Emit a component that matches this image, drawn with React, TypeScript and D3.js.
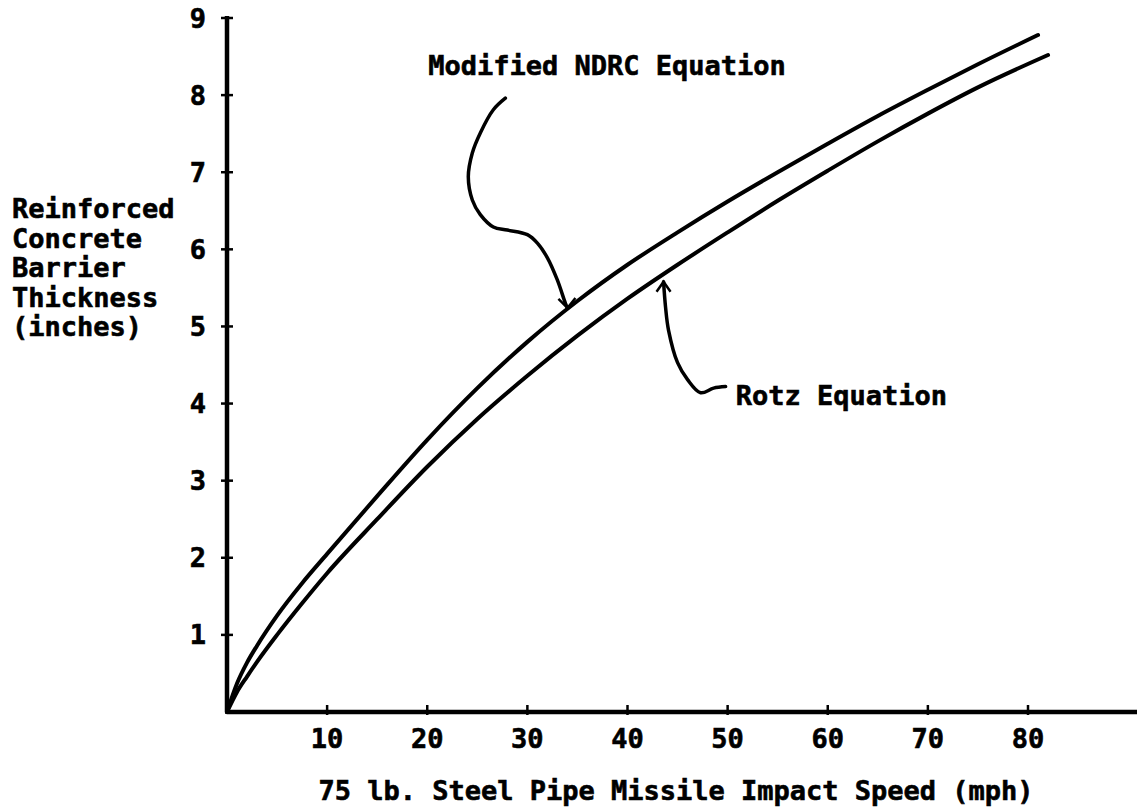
import React from "react";
import * as d3 from "d3";

// ---- data ----
const ndrcSpeed = [0, 1, 2, 3, 5, 7.5, 10, 15, 20, 25, 30, 35, 40, 45, 50, 55, 60, 65, 70, 75, 81];
const ndrcThickness = [0, 0.37, 0.64, 0.86, 1.25, 1.67, 2.05, 2.8, 3.53, 4.2, 4.8, 5.33, 5.8, 6.22, 6.62, 7.0, 7.37, 7.73, 8.07, 8.4, 8.78];
const rotzSpeed = [0, 1, 2, 3, 5, 7.5, 10, 15, 20, 25, 30, 35, 40, 45, 50, 55, 60, 65, 70, 75, 82];
const rotzThickness = [0, 0.26, 0.46, 0.65, 1.0, 1.41, 1.8, 2.5, 3.18, 3.8, 4.36, 4.88, 5.36, 5.8, 6.22, 6.63, 7.02, 7.4, 7.76, 8.1, 8.52];

const xTicks = [10, 20, 30, 40, 50, 60, 70, 80];
const yTicks = [1, 2, 3, 4, 5, 6, 7, 8, 9];

const yTitleLines = ["Reinforced", "Concrete", "Barrier", "Thickness", "(inches)"];
const xTitle = "75 lb. Steel Pipe Missile Impact Speed (mph)";
const ndrcLabel = "Modified NDRC Equation";
const rotzLabel = "Rotz Equation";

// leader lines in data units [speed, thickness]
const ndrcLeaderSpeed = [27.8, 26.6, 25.3, 24.5, 24.1, 24.5, 25.3, 26.6, 28.0, 30.0, 31.0, 32.0, 33.0, 33.8, 34.0];
const ndrcLeaderThick = [7.96, 7.81, 7.51, 7.25, 6.94, 6.64, 6.45, 6.29, 6.25, 6.19, 6.08, 5.89, 5.6, 5.3, 5.24];
const rotzLeaderSpeed = [49.8, 48.6, 47.3, 46.0, 45.0, 44.1, 43.8, 43.6];
const rotzLeaderThick = [4.22, 4.2, 4.14, 4.31, 4.53, 4.95, 5.25, 5.58];

const FONT = "'DejaVu Sans Mono', 'Liberation Mono', monospace";

export default function App() {
  const W = 1139;
  const H = 810;
  const x = d3.scaleLinear().domain([0, 80]).range([227, 1028]);
  const y = d3.scaleLinear().domain([0, 9]).range([712, 18]);

  const line = d3
    .line<[number, number]>()
    .x((d) => x(d[0]))
    .y((d) => y(d[1]))
    .curve(d3.curveMonotoneX);
  const leader = d3
    .line<[number, number]>()
    .x((d) => x(d[0]))
    .y((d) => y(d[1]))
    .curve(d3.curveCatmullRom);

  const ndrc = ndrcSpeed.map((s, i) => [s, ndrcThickness[i]] as [number, number]);
  const rotz = rotzSpeed.map((s, i) => [s, rotzThickness[i]] as [number, number]);
  const ndrcLead = ndrcLeaderSpeed.map((s, i) => [s, ndrcLeaderThick[i]] as [number, number]);
  const rotzLead = rotzLeaderSpeed.map((s, i) => [s, rotzLeaderThick[i]] as [number, number]);

  const x0 = x(0);
  const y0 = y(0);
  const xEnd = W - 2;

  const nTip = ndrcLead[ndrcLead.length - 1];
  const rTip = rotzLead[rotzLead.length - 1];
  const ntx = x(nTip[0]);
  const nty = y(nTip[1]);
  const rtx = x(rTip[0]);
  const rty = y(rTip[1]);

  const textStyle: React.CSSProperties = {
    fontFamily: FONT,
    fontWeight: 700,
    fontSize: 27,
    fill: "#000",
    stroke: "#000",
    strokeWidth: 0.6,
  };

  return (
    <svg
      width={W}
      height={H}
      viewBox={`0 0 ${W} ${H}`}
      style={{ position: "absolute", left: 0, top: 0, background: "#fff" }}
    >
      <rect x={0} y={0} width={W} height={H} fill="#fff" />

      {/* axes */}
      <path
        d={`M${x0},${y(9) - 2} L${x0},${y0} L${xEnd},${y0}`}
        fill="none"
        stroke="#000"
        strokeWidth={4.5}
        strokeLinejoin="round"
      />

      {/* y ticks */}
      {yTicks.map((t) => (
        <g key={`yt${t}`}>
          <line x1={x0 - 6} x2={x0 + 6} y1={y(t)} y2={y(t)} stroke="#000" strokeWidth={2.5} />
          <text x={206} y={y(t)} textAnchor="end" dominantBaseline="central" style={textStyle}>
            {t}
          </text>
        </g>
      ))}

      {/* x ticks */}
      {xTicks.map((t) => (
        <g key={`xt${t}`}>
          <line x1={x(t)} x2={x(t)} y1={y0 - 7} y2={y0 + 3} stroke="#000" strokeWidth={2.5} />
          <text x={x(t)} y={y0 + 36} textAnchor="middle" style={textStyle}>
            {t}
          </text>
        </g>
      ))}

      {/* curves */}
      <path d={line(ndrc) || ""} fill="none" stroke="#000" strokeWidth={4} strokeLinecap="round" />
      <path d={line(rotz) || ""} fill="none" stroke="#000" strokeWidth={4} strokeLinecap="round" />

      {/* leaders */}
      <path d={leader(ndrcLead) || ""} fill="none" stroke="#000" strokeWidth={3.5} strokeLinecap="round" />
      <path
        d={`M${ntx - 9},${nty - 9} L${ntx},${nty} L${ntx + 8},${nty - 10}`}
        fill="none"
        stroke="#000"
        strokeWidth={2.5}
      />
      <path d={leader(rotzLead) || ""} fill="none" stroke="#000" strokeWidth={3.5} strokeLinecap="round" />
      <path
        d={`M${rtx - 7},${rty + 10} L${rtx},${rty} L${rtx + 7},${rty + 10}`}
        fill="none"
        stroke="#000"
        strokeWidth={2.5}
      />

      {/* annotation labels */}
      <text x={x(20.1)} y={y(8.39) + 10} style={textStyle}>
        {ndrcLabel}
      </text>
      <text x={x(50.8)} y={y(4.11) + 10} style={textStyle}>
        {rotzLabel}
      </text>

      {/* y title */}
      {yTitleLines.map((l, i) => (
        <text key={l} x={12} y={218 + i * 29.5} style={textStyle}>
          {l}
        </text>
      ))}

      {/* x title */}
      <text x={676} y={800} textAnchor="middle" style={textStyle}>
        {xTitle}
      </text>
    </svg>
  );
}
